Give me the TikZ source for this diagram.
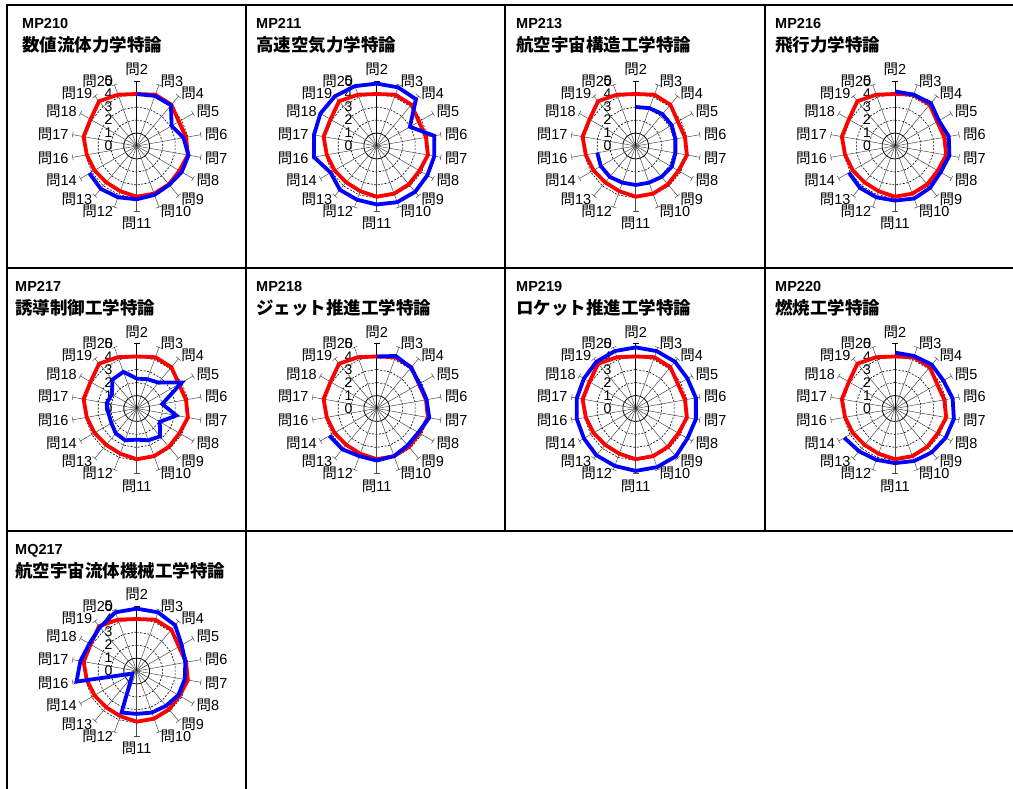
\documentclass[tikz,border=0pt]{standalone}
\usepackage{fontspec}
\setmainfont{Liberation Sans}
\newfontfamily\cjk{Noto Sans CJK JP}
\tikzset{
 border/.style={line width=2pt, line cap=rect},
 gridone/.style={line width=0.8pt},
 griddash/.style={line width=0.6pt, dash pattern=on 2pt off 1.5pt},
 spoke/.style={line width=0.5pt, black!70},
 mainax/.style={line width=0.8pt, black},
 redline/.style={line width=3.8pt, red},
 blueline/.style={line width=3.8pt, blue},
 qlab/.style={inner sep=0pt, font=\fontsize{14.5}{14.5}\selectfont},
 sclab/.style={inner sep=0pt, anchor=east, font=\fontsize{14}{14}\selectfont},
 codelab/.style={anchor=base west, inner sep=0pt, font=\fontsize{14.5}{14.5}\selectfont\bfseries},
 jtitle/.style={anchor=base west, inner sep=0pt, font=\fontsize{17.5}{17.5}\selectfont\cjk\bfseries},
}
\def\redvals{4.0,4.2,4.15,3.75,3.85,4.0,3.8,3.85,3.9,3.9,3.7,3.65,3.75,3.9,4.15,4.1,4.5,4.2}
% #1 id, #2 cx, #3 cy, #4 code, #5 title, #6 blue list, #7 closing, #8 title x
\newcommand\radar[8]{%
 \node[codelab] (#1code) at (#8,#3-117) {#4};
 \node[jtitle] (#1title) at (#8,#3-94) {#5};
 \begin{scope}[shift={(#2,#3)}]
  \draw[gridone] (90:13pt) \foreach \k in {1,...,17}{-- ({90-20*\k}:13pt)} -- cycle;
  \foreach \L in {2,3,4}{\draw[griddash] (90:{13pt*\L}) \foreach \k in {1,...,17}{-- ({90-20*\k}:{13pt*\L})} -- cycle;}
  \foreach \k in {1,...,17}{\draw[spoke,rotate={90-20*\k}] (0pt,0pt) -- (65pt,0pt) (65pt,-3pt) -- (65pt,3pt);}
  \draw[mainax] (0pt,0pt) -- (0pt,65pt) (-3pt,65pt) -- (3pt,65pt);
  \foreach \n [count=\k from 0] in {2,3,4,5,6,7,8,9,10,11,12,13,14,16,17,18,19,20}{
    \pgfmathtruncatemacro\a{90-20*\k}
    \ifnum\k=0 \def\anc{south}\def\rr{70pt}\else
     \ifnum\k=9 \def\anc{north}\def\rr{71pt}\else
      \ifnum\k<9 \def\anc{west}\def\rr{69pt}\else\def\anc{east}\def\rr{69pt}\fi\fi\fi
    \node[qlab, anchor=\anc] (#1q\n) at (\a:\rr) {{\cjk 問}\n};
  }
  \foreach \v in {0,...,5}{\node[sclab] (#1s\v) at (-24pt,{13pt*\v}) {\v};}
  \foreach \v [count=\k from 0] in \redvals {\coordinate (#1r\k) at ({90-20*\k}:{13pt*\v});}
  \draw[redline] (#1r0) \foreach \k in {1,...,17}{-- (#1r\k)} -- cycle;
  \foreach \v [count=\k from 0] in {#6} {\coordinate (#1b\k) at ({90-20*\k}:{13pt*\v}); \xdef\lastk{\k}}
  \draw[blueline] (#1b0) \foreach \k in {1,...,\lastk}{-- (#1b\k)} #7;
 \end{scope}
}
\begin{document}
\begin{tikzpicture}[x=1pt,y=-1pt]
\useasboundingbox (0,0) rectangle (1013,789);
\fill[white] (0,0) rectangle (1013,789);
% cell borders
\draw[border] (7,5) -- (1013,5);
\draw[border] (7,268) -- (1013,268);
\draw[border] (7,531) -- (1013,531);
\draw[border] (7,5) -- (7,789);
\draw[border] (246,5) -- (246,789);
\draw[border] (505,5) -- (505,531);
\draw[border] (765,5) -- (765,531);
% charts
\radar{a}{136.7}{146}{MP210}{数値流体力学特論}{4.0,4.1,4.1,3.1,3.65,4.05,4.0,3.9,4.0,4.1,4.2,4.3,4.2}{}{22}
\radar{b}{376.7}{146}{MP211}{高速空気力学特論}{4.8,4.8,4.7,2.95,4.5,4.5,4.5,4.6,4.6,4.5,4.4,4.4,4.1,4.9,4.9,5.0,5.0,4.9}{-- cycle}{256}
\radar{c}{635.7}{146}{MP213}{航空宇宙構造工学特論}{3.0,3.1,3.2,3.2,3.1,3.1,3.2,3.1,3.0,3.0,3.0,3.1,3.1,3.0}{}{516}
\radar{d}{895}{146}{MP216}{飛行力学特論}{4.2,4.2,4.3,3.9,4.2,4.25,4.05,4.2,4.3,4.2,4.2,4.2,4.1}{}{775}
\radar{e}{136.7}{408.5}{MP217}{誘導制御工学特論}{2.3,2.4,2.6,4.0,2.0,3.1,2.05,2.8,2.6,2.4,2.6,2.5,2.25,2.2,2.35,2.2,2.9,3.0}{-- cycle}{15}
\radar{f}{376.7}{408.5}{MP218}{ジェット推進工学特論}{4.0,4.3,4.1,3.8,3.9,4.1,3.7,3.7,3.9,4.0,3.9,4.1,4.2}{}{256}
\radar{g}{635.7}{408.5}{MP219}{ロケット推進工学特論}{4.7,4.7,4.7,4.6,4.7,4.7,4.6,4.8,4.8,4.8,4.7,4.7,4.6,4.6,4.6,4.6,4.7,4.7}{-- cycle}{516}
\radar{h}{895}{408.5}{MP220}{燃焼工学特論}{4.3,4.3,4.4,4.3,4.5,4.6,4.5,4.4,4.3,4.2,4.2,4.3,4.5}{}{775}
\radar{i}{136.7}{671}{MQ217}{航空宇宙流体機械工学特論}{4.8,4.8,4.6,4.0,3.8,3.75,3.7,3.5,3.4,3.3,3.4,0.6,0.4,4.7,4.4,4.2,4.4,4.8}{-- cycle}{15}
\end{tikzpicture}
\end{document}
